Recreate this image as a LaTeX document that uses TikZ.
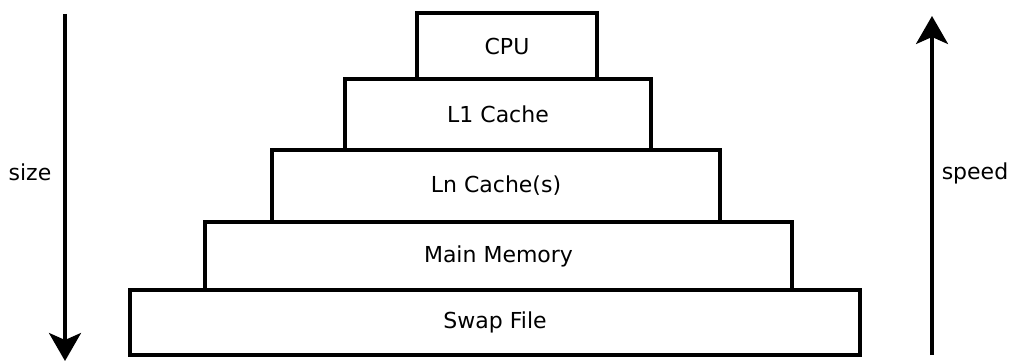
\documentclass[tikz,border=0pt]{standalone}
\usepackage{fontspec}
\setmainfont{DejaVu Sans}
\usetikzlibrary{arrows.meta, positioning}

\begin{document}
\begin{tikzpicture}[
        x=1pt, y=-1pt,
        line width=3.4pt,
        font=\fontsize{22}{26}\selectfont,
        level/.style={
            draw,
            rectangle,
            outer sep=0pt,
            inner sep=0pt
        },
        every edge/.style={
            draw,
            -{Stealth[length=28pt, width=32pt, inset=7pt]} % filled tip with a small notch
        }
    ]
    \useasboundingbox (0,0) rectangle (1011,363);
    % memory pyramid, bottom to top
    \node[level, minimum width=730pt, minimum height=65pt] (swap) at (495,322.5) {Swap File};
    \node[level, minimum width=587pt, minimum height=68pt] (mem) at (498.5,256) {Main Memory};
    \node[level, minimum width=448pt, minimum height=72pt] (lnc) at (496,186) {Ln Cache(s)};
    \node[level, minimum width=306pt, minimum height=71pt] (lone) at (498,114.5) {L1 Cache};
    \node[level, minimum width=180pt, minimum height=66pt] (cpu) at (507,46) {CPU};
    % side axes
    \coordinate (sizetop) at (65,14);
    \coordinate (sizebot) at (65,361);
    \coordinate (speedbot) at (932,355);
    \coordinate (speedtop) at (932,16);
    \node (size) at (30,172) {size};
    \node (speed) at (975,173) {speed};
    \path
        (sizetop) edge (sizebot)
        (speedbot) edge (speedtop);
\end{tikzpicture}
\end{document}
